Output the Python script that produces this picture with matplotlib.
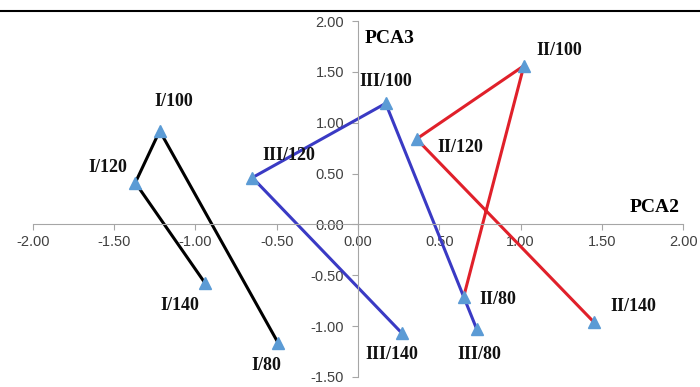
import matplotlib
matplotlib.use('Agg')
import matplotlib.pyplot as plt

# PCA scores, path order as drawn
labels_i = ['I/140', 'I/120', 'I/100', 'I/80']
x_i = [-0.94, -1.37, -1.22, -0.49]
y_i = [-0.58, 0.41, 0.92, -1.17]

labels_iii = ['III/80', 'III/100', 'III/120', 'III/140']
x_iii = [0.73, 0.17, -0.65, 0.27]
y_iii = [-1.03, 1.19, 0.46, -1.07]

labels_ii = ['II/80', 'II/100', 'II/120', 'II/140']
x_ii = [0.65, 1.02, 0.36, 1.45]
y_ii = [-0.71, 1.56, 0.84, -0.96]

x_ticks = [-2.0, -1.5, -1.0, -0.5, 0.0, 0.5, 1.0, 1.5, 2.0]
y_ticks = [-1.5, -1.0, -0.5, 0.0, 0.5, 1.0, 1.5, 2.0]

# label offsets in points (dx, dy, ha)
offsets = {
    'I/100': (10, 21, 'center'), 'I/120': (-6, 11, 'right'),
    'I/140': (-18, -16, 'center'), 'I/80': (-9, -16, 'center'),
    'III/100': (0, 16, 'center'), 'III/120': (26, 16, 'center'),
    'III/140': (-7, -15, 'center'), 'III/80': (2, -18, 'center'),
    'II/100': (9, 11, 'left'), 'II/120': (15, -6, 'left'),
    'II/80': (11, -2, 'left'), 'II/140': (12, 11, 'left'),
}

fig = plt.figure(figsize=(7, 3.87), dpi=100)
ax = fig.add_axes([0.047, 0.026, 0.929, 0.9197])

marker_col = '#5b9bd5'
for xs, ys, labs, col in [(x_i, y_i, labels_i, 'black'),
                          (x_iii, y_iii, labels_iii, '#3a3ac4'),
                          (x_ii, y_ii, labels_ii, '#e0202a')]:
    ax.plot(xs, ys, color=col, lw=2.2, zorder=2)
    ax.plot(xs, ys, ls='none', marker='^', ms=8.5, color=marker_col, zorder=3)
    for x, y, lab in zip(xs, ys, labs):
        dx, dy, ha = offsets[lab]
        ax.annotate(lab, (x, y), xytext=(dx, dy), textcoords='offset points',
                    ha=ha, va='center', fontsize=13, fontweight='bold',
                    family='Liberation Serif', color='#111111')

ax.set_xlim(-2, 2)
ax.set_ylim(-1.5, 2)
ax.spines['left'].set_position(('data', 0))
ax.spines['bottom'].set_position(('data', 0))
ax.spines['right'].set_visible(False)
ax.spines['top'].set_visible(False)
for s in ['left', 'bottom']:
    ax.spines[s].set_color('#a6a6a6')
ax.set_xticks(x_ticks)
ax.set_yticks(y_ticks)
ax.set_xticklabels(['%.2f' % v for v in x_ticks])
ax.set_yticklabels(['%.2f' % v for v in y_ticks])
ax.tick_params(colors='#a6a6a6', labelcolor='#404040', labelsize=10.5, length=4)
ax.tick_params(axis='y', pad=6)
for t in ax.get_xticklabels() + ax.get_yticklabels():
    t.set_family('Liberation Sans')
ax.patch.set_visible(False)

ax.text(0.04, 1.83, 'PCA3', fontsize=14, fontweight='bold',
        family='Liberation Serif', ha='left', va='center')
ax.text(1.98, 0.165, 'PCA2', fontsize=14, fontweight='bold',
        family='Liberation Serif', ha='right', va='center')

# border line at the top of the page
fig.add_artist(plt.Line2D([0.0, 1.0], [0.972, 0.972], color='black', lw=1.5))

fig.savefig('out.png', dpi=100)
